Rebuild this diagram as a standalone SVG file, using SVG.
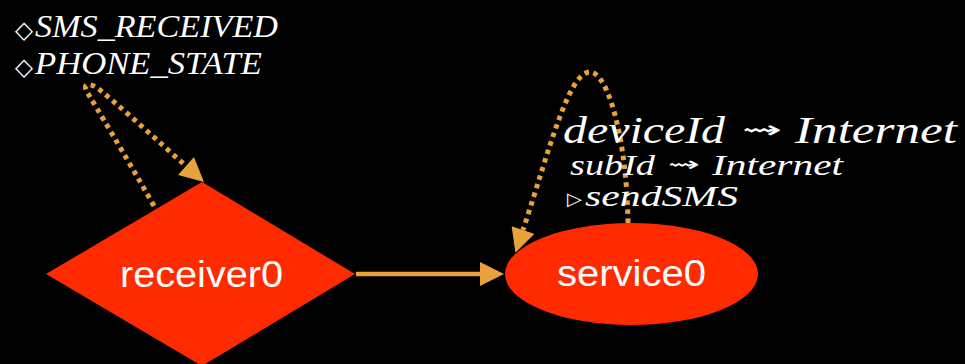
<svg xmlns="http://www.w3.org/2000/svg" width="965" height="364" viewBox="0 0 965 364">
  <style>
    .node { fill: #FF2A00; }
    .nlabel { font-family: "Liberation Sans", Arial, sans-serif; font-size: 36px; fill: #FFFFFF; text-anchor: middle; }
    .edge { fill: none; stroke: #E9A23B; stroke-width: 4.5; }
    .dotted { stroke-width: 5; stroke-dasharray: 4.5 4.5; }
    .math { font-family: "Liberation Serif", "Times New Roman", serif; font-style: italic; fill: #FFFFFF; }
    .sym { font-family: "DejaVu Sans", sans-serif; fill: #FFFFFF; }
  </style>
  <defs>
    <marker id="arrow" viewBox="0 0 10 10" refX="0" refY="5" markerUnits="userSpaceOnUse" markerWidth="25" markerHeight="24" orient="auto">
      <path d="M0,0 L10,5 L0,10 z" fill="#E9A23B"/>
    </marker>
  </defs>

  <rect width="965" height="364" fill="#000000"/>

  <g id="connectors">
    <path class="edge" d="M356,274 L480,274" marker-end="url(#arrow)"/>
    <path class="edge dotted" d="M154,206 C125,155 95,105 87,92 C82,83 90,82 100,90 C130,115 160,143 186,166" marker-end="url(#arrow)"/>
    <path class="edge dotted" d="M628,223 C627,140 608,72 590,72 C568,72 548,155 523,230" marker-end="url(#arrow)"/>
  </g>

  <g id="receiver0">
    <polygon class="node" points="202,182 355,274 202,366 46,274"/>
    <text class="nlabel" x="201.5" y="287" textLength="163" lengthAdjust="spacingAndGlyphs">receiver0</text>
  </g>

  <g id="service0">
    <ellipse class="node" cx="631.5" cy="274" rx="126.5" ry="51"/>
    <text class="nlabel" x="631.5" y="286" textLength="149" lengthAdjust="spacingAndGlyphs">service0</text>
  </g>

  <g id="receiver0-labels">
    <text class="sym" x="15" y="38" font-size="24" textLength="18" lengthAdjust="spacingAndGlyphs">◇</text>
    <text class="math" x="35" y="37" font-size="31" textLength="243" lengthAdjust="spacingAndGlyphs">SMS_RECEIVED</text>
    <text class="sym" x="15" y="75" font-size="24" textLength="18" lengthAdjust="spacingAndGlyphs">◇</text>
    <text class="math" x="35" y="74" font-size="31" textLength="227" lengthAdjust="spacingAndGlyphs">PHONE_STATE</text>
  </g>

  <g id="service0-labels">
    <text class="math" x="563" y="143" font-size="38" textLength="162" lengthAdjust="spacingAndGlyphs">deviceId</text>
    <text class="sym" x="742" y="138" font-size="24" textLength="40" lengthAdjust="spacingAndGlyphs">⇝</text>
    <text class="math" x="795" y="143" font-size="38" textLength="162" lengthAdjust="spacingAndGlyphs">Internet</text>
    <text class="math" x="570" y="175" font-size="30" textLength="85" lengthAdjust="spacingAndGlyphs">subId</text>
    <text class="sym" x="668" y="171" font-size="20" textLength="32" lengthAdjust="spacingAndGlyphs">⇝</text>
    <text class="math" x="712" y="175" font-size="30" textLength="131" lengthAdjust="spacingAndGlyphs">Internet</text>
    <text class="sym" x="567" y="205" font-size="18" textLength="15" lengthAdjust="spacingAndGlyphs">▷</text>
    <text class="math" x="585" y="206" font-size="30" textLength="153" lengthAdjust="spacingAndGlyphs">sendSMS</text>
  </g>
</svg>
